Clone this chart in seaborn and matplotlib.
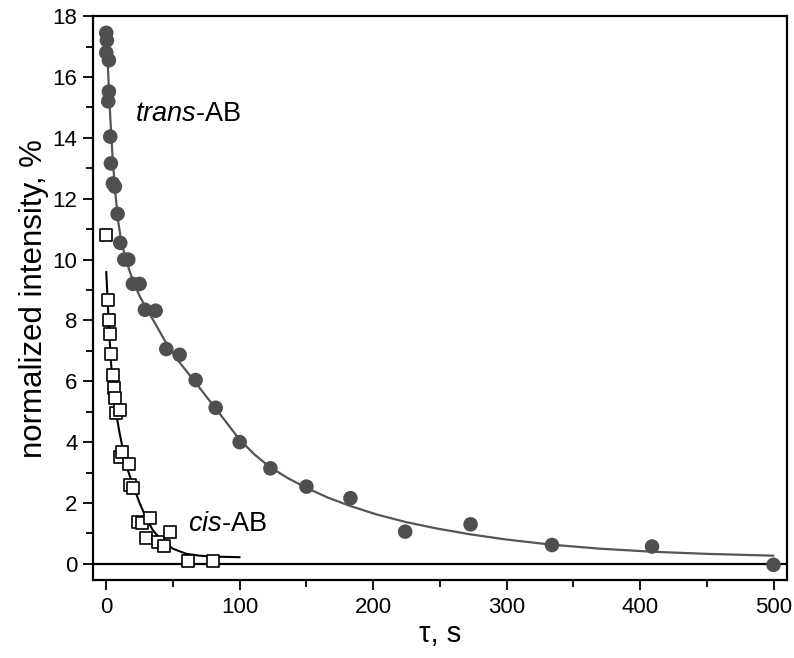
import numpy as np
import pandas as pd
import matplotlib
matplotlib.use("Agg")
import matplotlib.pyplot as plt
from matplotlib.ticker import MultipleLocator
import seaborn as sns

# ---- data ----
trans_x = [0, 0.5, 0, 2, 2, 1.5, 3, 3.5, 5, 6.5, 8.5, 10.5, 13.5, 16.5, 20, 25, 29, 37,
           45, 55, 67, 82, 100, 123, 150, 183, 224, 273, 334, 409, 500]
trans_y = [17.45, 17.2, 16.8, 16.55, 15.52, 15.2, 14.04, 13.16, 12.5, 12.4, 11.5, 10.55,
           10.0, 10.0, 9.2, 9.2, 8.35, 8.32, 7.06, 6.87, 6.04, 5.13, 4.0, 3.14, 2.54, 2.16,
           1.06, 1.3, 0.62, 0.57, -0.03]

cis_x = [0, 1, 1.7, 2.5, 3.5, 4.7, 5.5, 6.2, 7.5, 10, 10.5, 11.8, 16.7, 18, 20, 23.5,
         26.8, 30, 33, 39, 43, 47.5, 61, 80]
cis_y = [10.8, 8.67, 8.02, 7.56, 6.89, 6.21, 5.77, 5.44, 4.97, 5.06, 3.52, 3.69, 3.28,
         2.6, 2.49, 1.39, 1.34, 0.84, 1.5, 0.73, 0.59, 1.06, 0.11, 0.08]

trans_fit_x = [0, 1, 2, 3, 4, 5, 7, 9, 11, 15, 20, 25, 30, 36, 45, 55, 67, 83, 100, 111,
               122, 136, 150, 166, 183, 203, 224, 248, 273, 300, 334, 370, 409, 450, 500]
trans_fit_y = [17.5, 16.55, 15.6, 14.7, 13.9, 13.2, 12.1, 11.25, 10.65, 9.95, 9.3, 8.8,
               8.4, 7.95, 7.25, 6.62, 5.95, 5.05, 4.08, 3.6, 3.2, 2.82, 2.5, 2.18, 1.9,
               1.62, 1.38, 1.16, 0.97, 0.8, 0.63, 0.5, 0.4, 0.33, 0.27]

cis_fit_x = [0, 1, 2, 3, 4, 5, 6, 8, 10, 13, 16, 20, 25, 30, 35, 40, 45, 50, 60, 70, 80, 100]
cis_fit_y = [9.6, 8.7, 7.8, 7.0, 6.35, 5.8, 5.4, 4.8, 4.3, 3.65, 3.1, 2.6, 2.0, 1.5, 1.1,
             0.85, 0.65, 0.5, 0.33, 0.27, 0.24, 0.22]

x_ticks = [0, 100, 200, 300, 400, 500]
y_ticks = [0, 2, 4, 6, 8, 10, 12, 14, 16, 18]

# ---- style ----
sns.set_style("ticks")
plt.rcParams['font.family'] = ['Liberation Sans', 'DejaVu Sans']
plt.rcParams['mathtext.fontset'] = 'custom'
plt.rcParams['mathtext.it'] = 'Liberation Sans:italic'
plt.rcParams['mathtext.rm'] = 'Liberation Sans'
for k in ['text.color', 'axes.labelcolor', 'xtick.color', 'ytick.color',
          'axes.edgecolor']:
    plt.rcParams[k] = 'black'

fig = plt.figure(figsize=(7.94, 6.58), dpi=100)
ax = fig.add_axes([0.117, 0.1185, 0.874, 0.857])

trans_df = pd.DataFrame({"t": trans_x, "v": trans_y})
cis_df = pd.DataFrame({"t": cis_x, "v": cis_y})
tfit = pd.DataFrame({"t": trans_fit_x, "v": trans_fit_y})
cfit = pd.DataFrame({"t": cis_fit_x, "v": cis_fit_y})

ax.axhline(0, color="black", lw=1.6, zorder=1)

sns.lineplot(data=tfit, x="t", y="v", ax=ax, color="#555555", lw=1.6, sort=False,
             estimator=None, zorder=2)
sns.lineplot(data=cfit, x="t", y="v", ax=ax, color="black", lw=1.5, sort=False,
             estimator=None, zorder=2)
sns.scatterplot(data=trans_df, x="t", y="v", ax=ax, color="#4f4f4f", s=110,
                edgecolor="none", marker="o", zorder=3)
sns.scatterplot(data=cis_df, x="t", y="v", ax=ax, facecolor="white", s=70,
                edgecolor="black", linewidth=1.2, marker="s", zorder=4)

ax.set_xlim(-10, 510)
ax.set_ylim(-0.53, 18)
ax.set_xticks(x_ticks)
ax.set_yticks(y_ticks)
ax.xaxis.set_minor_locator(MultipleLocator(50))
ax.yaxis.set_minor_locator(MultipleLocator(1))
ax.tick_params(axis="both", which="major", direction="out", length=7, width=1.3,
               labelsize=16, color="black", labelcolor="black")
ax.tick_params(axis="x", which="major", pad=5)
ax.tick_params(axis="y", which="major", pad=4)
ax.tick_params(axis="both", which="minor", direction="out", length=5, width=1.3,
               color="black")
for sp in ax.spines.values():
    sp.set_visible(True)
    sp.set_linewidth(1.6)
    sp.set_color("black")

ax.set_xlabel("τ, s", fontsize=21, labelpad=2, color="black")
ax.set_ylabel("normalized intensity, %", fontsize=22.5, labelpad=3, color="black")

ax.text(21.7, 14.8, r"$\mathit{trans}$" + "-AB", fontsize=19.5, va="center", ha="left",
        color="black")
ax.text(61.5, 1.32, r"$\mathit{cis}$" + "-AB", fontsize=19.5, va="center", ha="left",
        color="black")

fig.savefig("out.png", dpi=100)
